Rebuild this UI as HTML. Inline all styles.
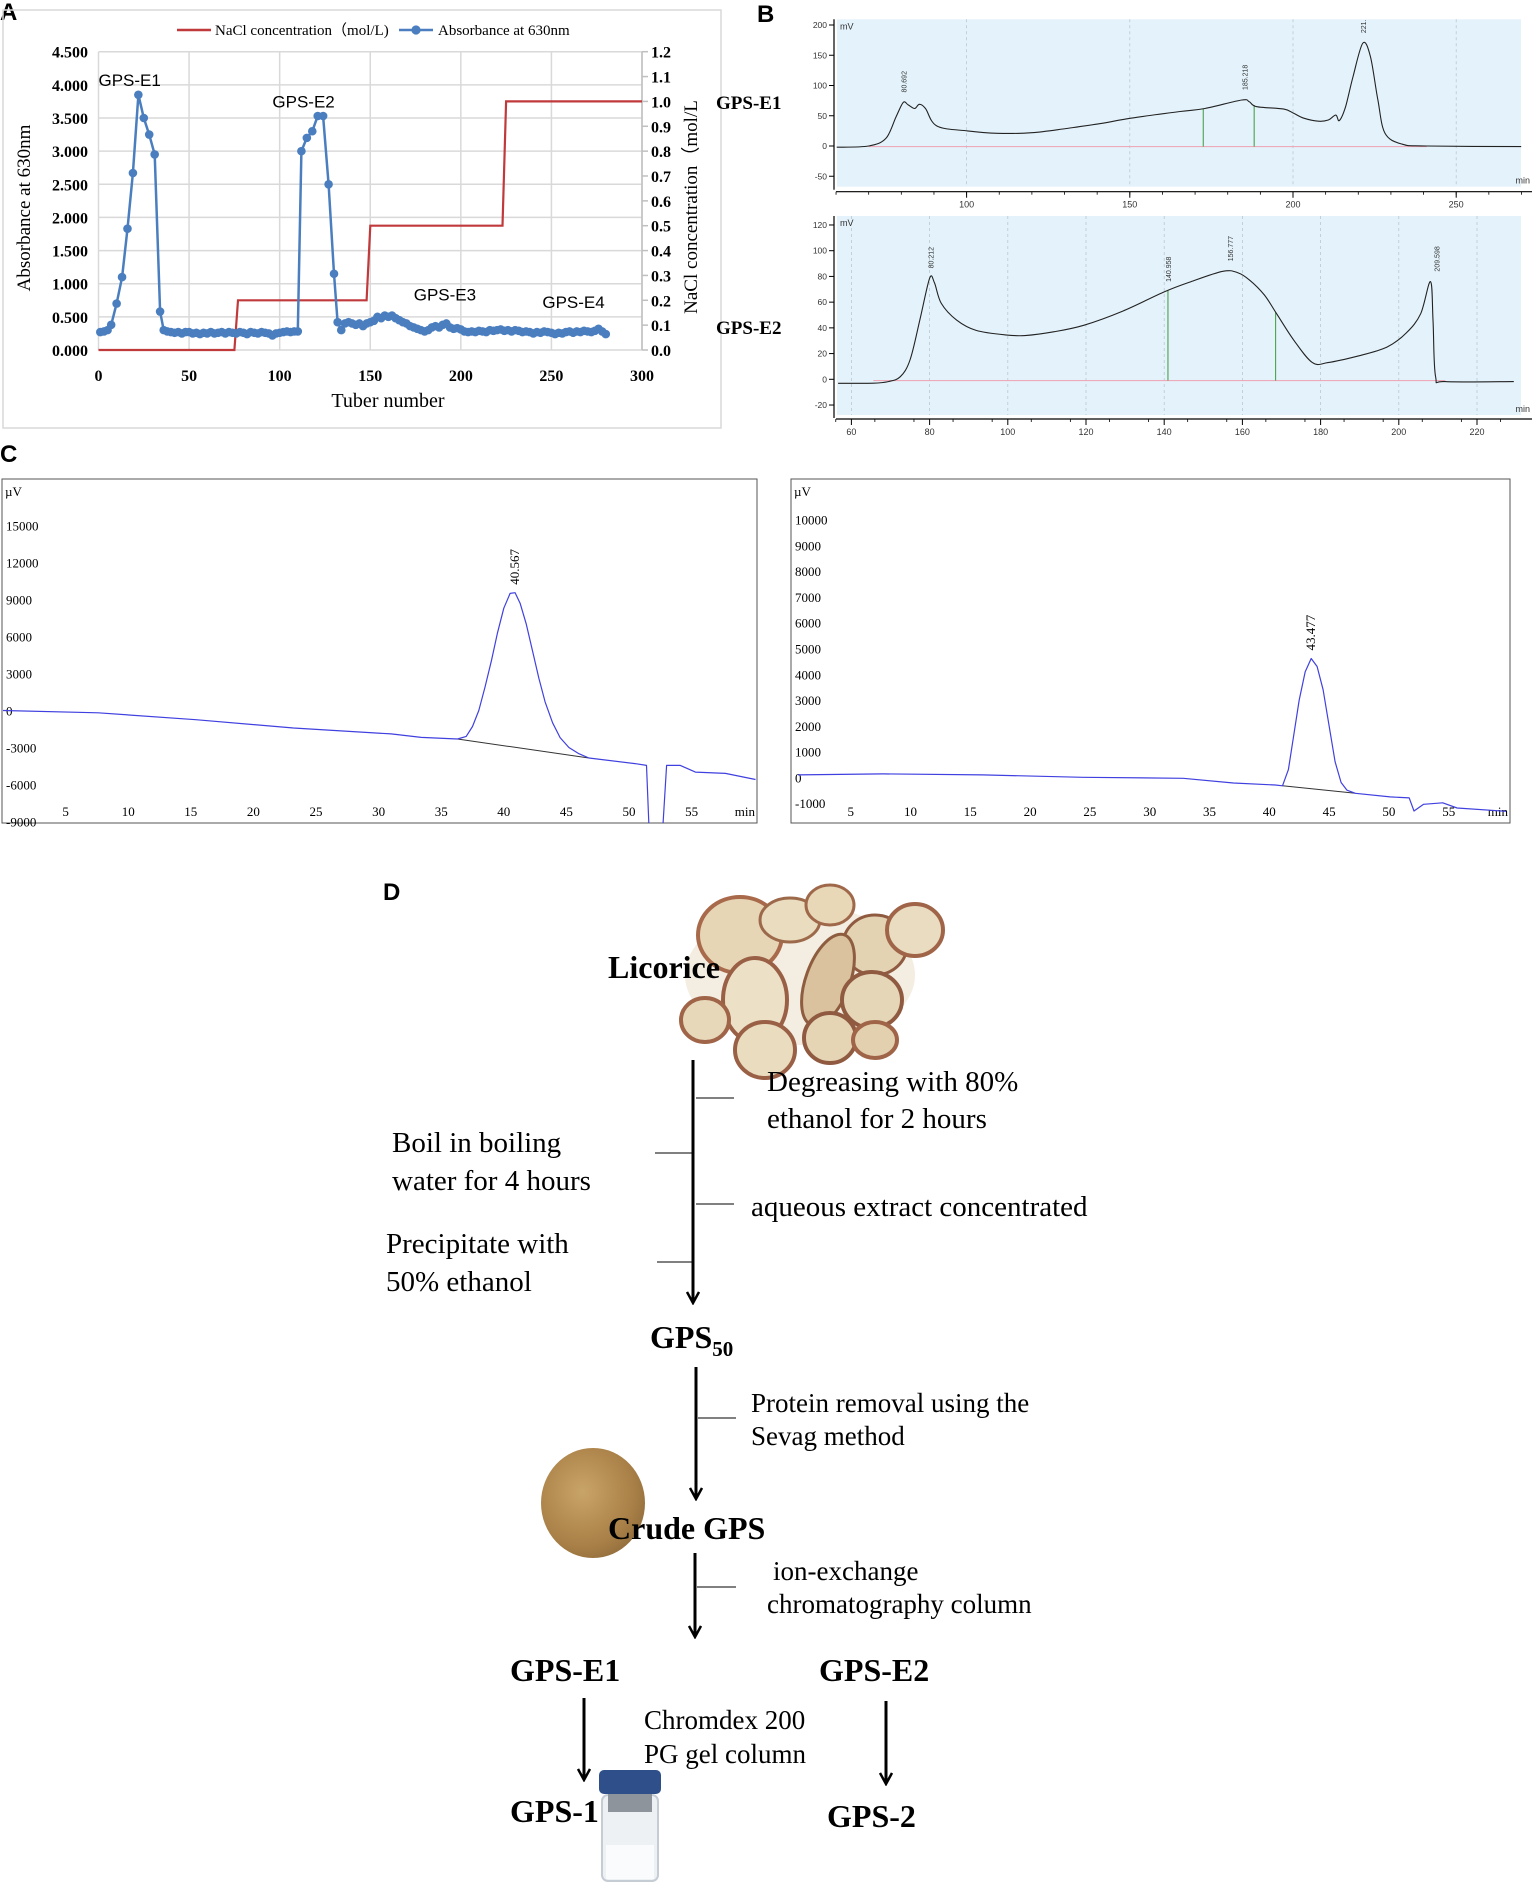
<!DOCTYPE html>
<html><head><meta charset="utf-8">
<style>
html,body{margin:0;padding:0;background:#fff;}
svg{display:block;}
text{font-family:"Liberation Serif",serif;}
.sans{font-family:"Liberation Sans",sans-serif;}
</style></head>
<body>
<svg id="fig" width="1535" height="1888" viewBox="0 0 1535 1888" xmlns="http://www.w3.org/2000/svg">
  <defs>
    <clipPath id="clipCL"><rect x="2" y="479" width="755" height="344"/></clipPath>
    <clipPath id="clipCR"><rect x="791" y="479" width="719" height="344"/></clipPath>
    <radialGradient id="powder" cx="0.4" cy="0.4" r="0.7"><stop offset="0" stop-color="#c9a468"/><stop offset="0.7" stop-color="#a98047"/><stop offset="1" stop-color="#8e6a3a"/></radialGradient>
    <marker id="arr" markerWidth="14" markerHeight="14" refX="12" refY="7" orient="auto" markerUnits="userSpaceOnUse"><path d="M1,1 L12,7 L1,13" fill="none" stroke="#000" stroke-width="2.5"/></marker>
  </defs>

  <text x="0" y="20" class="sans" font-size="24" font-weight="bold">A</text>
  <text x="757" y="22" class="sans" font-size="24" font-weight="bold">B</text>
  <text x="0" y="462" class="sans" font-size="24" font-weight="bold">C</text>
  <text x="383" y="900" class="sans" font-size="24" font-weight="bold">D</text>

  <rect x="3" y="10" width="718" height="418" fill="none" stroke="#d9d9d9" stroke-width="1.5"/>
  <g id="panelA"></g>
  <text x="716" y="109" font-size="19" font-weight="bold">GPS-E1</text>
  <text x="716" y="334" font-size="19" font-weight="bold">GPS-E2</text>

  <g id="panelB"></g>
  <g id="panelC"></g>

  <g id="panelD">
    <g>
      <ellipse cx="800" cy="975" rx="115" ry="70" fill="#f4ede2"/>
      <ellipse cx="740" cy="935" rx="42" ry="38" fill="#e6d6b6" stroke="#a86a4a" stroke-width="4"/>
      <ellipse cx="790" cy="920" rx="30" ry="22" fill="#eadcbf" stroke="#9c6a4a" stroke-width="3"/>
      <ellipse cx="830" cy="905" rx="24" ry="20" fill="#e8d8b8" stroke="#a0684a" stroke-width="3"/>
      <ellipse cx="875" cy="945" rx="32" ry="30" fill="#e3d3b3" stroke="#8f5a40" stroke-width="3"/>
      <ellipse cx="915" cy="930" rx="28" ry="26" fill="#e9dcc0" stroke="#a06548" stroke-width="4"/>
      <ellipse cx="755" cy="1000" rx="32" ry="42" fill="#ece0c6" stroke="#9a6046" stroke-width="4"/>
      <ellipse cx="828" cy="980" rx="22" ry="48" fill="#d9c29d" stroke="#8e5d40" stroke-width="3" transform="rotate(20 828 980)"/>
      <ellipse cx="872" cy="1000" rx="30" ry="28" fill="#e5d6b8" stroke="#8f5a40" stroke-width="4"/>
      <ellipse cx="705" cy="1020" rx="24" ry="22" fill="#e7d8ba" stroke="#a06548" stroke-width="4"/>
      <ellipse cx="765" cy="1050" rx="30" ry="28" fill="#eadcbe" stroke="#9a6046" stroke-width="4"/>
      <ellipse cx="830" cy="1038" rx="26" ry="25" fill="#e6d5b5" stroke="#8f5a40" stroke-width="4"/>
      <ellipse cx="875" cy="1040" rx="22" ry="18" fill="#e3d0ae" stroke="#a06548" stroke-width="4"/>
    </g>
    <text x="608" y="978" font-size="32" font-weight="bold">Licorice</text>

    <line x1="693" y1="1060" x2="693" y2="1303" stroke="#000" stroke-width="3" marker-end="url(#arr)"/>
    <line x1="696" y1="1098" x2="734" y2="1098" stroke="#000" stroke-width="1"/>
    <line x1="655" y1="1153" x2="693" y2="1153" stroke="#000" stroke-width="1"/>
    <line x1="696" y1="1204" x2="734" y2="1204" stroke="#000" stroke-width="1"/>
    <line x1="657" y1="1262" x2="693" y2="1262" stroke="#000" stroke-width="1"/>
    <text x="767" y="1091" font-size="29">Degreasing with 80%</text>
    <text x="767" y="1128" font-size="29">ethanol for 2 hours</text>
    <text x="392" y="1152" font-size="29">Boil in boiling</text>
    <text x="392" y="1190" font-size="29">water for 4 hours</text>
    <text x="751" y="1216" font-size="29">aqueous extract concentrated</text>
    <text x="386" y="1253" font-size="29">Precipitate with</text>
    <text x="386" y="1291" font-size="29">50% ethanol</text>
    <text x="650" y="1348" font-size="32" font-weight="bold">GPS<tspan font-size="21" dy="8">50</tspan></text>

    <line x1="696" y1="1367" x2="696" y2="1499" stroke="#000" stroke-width="3" marker-end="url(#arr)"/>
    <line x1="698" y1="1418" x2="736" y2="1418" stroke="#000" stroke-width="1"/>
    <text x="751" y="1412" font-size="27">Protein removal using the</text>
    <text x="751" y="1445" font-size="27">Sevag method</text>

    <ellipse cx="593" cy="1503" rx="52" ry="55" fill="url(#powder)"/>
    <text x="608" y="1539" font-size="32" font-weight="bold">Crude GPS</text>

    <line x1="695" y1="1553" x2="695" y2="1637" stroke="#000" stroke-width="3" marker-end="url(#arr)"/>
    <line x1="697" y1="1587" x2="736" y2="1587" stroke="#000" stroke-width="1"/>
    <text x="773" y="1580" font-size="27">ion-exchange</text>
    <text x="767" y="1613" font-size="27">chromatography column</text>

    <text x="510" y="1681" font-size="32" font-weight="bold">GPS-E1</text>
    <text x="819" y="1681" font-size="32" font-weight="bold">GPS-E2</text>
    <line x1="584" y1="1698" x2="584" y2="1780" stroke="#000" stroke-width="3" marker-end="url(#arr)"/>
    <line x1="886" y1="1701" x2="886" y2="1784" stroke="#000" stroke-width="3" marker-end="url(#arr)"/>
    <text x="644" y="1729" font-size="27">Chromdex 200</text>
    <text x="644" y="1763" font-size="27">PG gel column</text>

    <g>
      <rect x="602" y="1795" width="56" height="86" rx="6" fill="#eef1f4" stroke="#c5ccd4" stroke-width="2"/>
      <rect x="606" y="1845" width="48" height="34" fill="#fafbfc"/>
      <rect x="608" y="1790" width="44" height="22" fill="#8d949c"/>
      <rect x="599" y="1770" width="62" height="24" rx="5" fill="#2f4f8a"/>
    </g>
    <text x="510" y="1822" font-size="32" font-weight="bold">GPS-1</text>
    <text x="827" y="1827" font-size="32" font-weight="bold">GPS-2</text>
  </g>
</svg>

<script>
// ---------- Panel A data ----------
const tubeNumbers = [1,3,5,7,10,13,16,19,22,25,28,31,34,36,38,40,42,44,46,48,50,52,54,56,58,60,62,64,66,68,70,72,74,76,78,80,82,84,86,88,90,92,94,96,98,100,102,104,106,108,110,112,115,118,121,124,127,130,132,134,136,138,140,142,144,146,148,150,152,154,156,158,160,162,164,166,168,170,172,174,176,178,180,182,184,186,188,190,192,194,196,198,200,202,204,206,208,210,212,214,216,218,220,222,224,226,228,230,232,234,236,238,240,242,244,246,248,250,252,254,256,258,260,262,264,266,268,270,272,274,276,278,280];
const absorbance = [0.27,0.28,0.30,0.38,0.70,1.10,1.83,2.67,3.85,3.50,3.25,2.95,0.58,0.30,0.28,0.27,0.26,0.27,0.25,0.27,0.27,0.25,0.26,0.24,0.26,0.25,0.27,0.25,0.26,0.27,0.25,0.27,0.26,0.25,0.27,0.26,0.24,0.27,0.26,0.25,0.27,0.26,0.25,0.22,0.25,0.26,0.27,0.28,0.27,0.28,0.28,3.00,3.20,3.30,3.53,3.53,2.50,1.15,0.42,0.30,0.40,0.42,0.40,0.38,0.40,0.36,0.40,0.42,0.44,0.50,0.48,0.52,0.50,0.52,0.48,0.45,0.42,0.40,0.36,0.34,0.32,0.30,0.28,0.30,0.34,0.36,0.34,0.38,0.40,0.34,0.32,0.33,0.31,0.28,0.27,0.28,0.27,0.29,0.28,0.27,0.30,0.29,0.30,0.31,0.29,0.30,0.28,0.30,0.29,0.27,0.28,0.27,0.25,0.27,0.26,0.28,0.27,0.26,0.24,0.26,0.25,0.27,0.28,0.26,0.28,0.27,0.29,0.28,0.27,0.29,0.32,0.28,0.24];
const naclTubes = [0,75,77,148,150,223,225,300];
const naclConc = [0,0,0.2,0.2,0.5,0.5,1.0,1.0];
const absTicks = ["0.000","0.500","1.000","1.500","2.000","2.500","3.000","3.500","4.000","4.500"];
const naclTicks = ["0.0","0.1","0.2","0.3","0.4","0.5","0.6","0.7","0.8","0.9","1.0","1.1","1.2"];
const tubeTicks = [0,50,100,150,200,250,300];
const peakLabels = ["GPS-E1","GPS-E2","GPS-E3","GPS-E4"];
const peakLabelTubes = [0,96,174,245];
const peakLabelAbs = [3.98,3.66,0.75,0.63];

// ---------- Panel B data ----------
const e1Times = [60.2,70,75.3,78.4,80.6,82.1,84.1,85.5,87.4,90.9,100.3,109.4,120,130.6,141,150.3,165.4,173,184.3,186.6,188.9,197.2,200.2,203.3,207.8,210.8,213.1,214.2,216.1,218.4,221.4,223.7,226,228.2,233.5,241,269.9];
const e1Signal = [-2,0,12.7,48.5,72,68,62,69,62,33,25,21,22,29,37,46,57,62,76,73,65,61,54,46,41,43,51,42,65,115,170,148,76,21,3,0,-1];
const e1Markers = [172.5,188.1];
const e1PeakTimes = [80.6,185.2,221.4];
const e1PeakText = ["80.692","185.218","221."];
const e1XTicks = [100,150,200,250];
const e1YTicks = [-50,0,50,100,150,200];

const e2Times = [56.6,65.6,69.4,72.5,75,77.5,80,81.25,83,86.9,91.9,99.4,104.4,111.9,119.4,129.4,140,146.9,155,158.75,161.9,165.6,168.75,173.1,177.9,181.9,189.4,196.9,201.9,205.6,208.1,208.75,209.4,211.9,229.4];
const e2Signal = [-3.1,-3,-1.8,2,15,46,78.5,75,59,46,38,34.5,34,37,42,53,68,76,84,83,77,65.6,51,30.6,13,13,18,25,36,51,76,46,2,-1.8,-1.8];
const e2Markers = [140.96,168.5];
const e2PeakTimes = [80.2,141,156.8,209.6];
const e2PeakText = ["80.212","140.958","156.777","209.598"];
const e2XTicks = [60,80,100,120,140,160,180,200,220];
const e2YTicks = [-20,0,20,40,60,80,100,120];

// ---------- Panel C data ----------
const c1Times = [0,7.6,15.4,23.2,31,33.4,36.3,37,37.5,38,38.5,39,39.5,40,40.5,40.9,41.3,41.8,42.3,42.8,43.3,43.9,44.5,45.2,46,46.8,50.6,51.4,51.6,52.7,53,54.1,55.3,57.7,60.1];
const c1Signal = [0,-190,-750,-1420,-1900,-2180,-2310,-2100,-1300,0,1900,4000,6300,8300,9500,9550,8700,7000,4800,2600,700,-1000,-2200,-3000,-3500,-3850,-4320,-4450,-9500,-9500,-4450,-4450,-5000,-5100,-5600];
const c1BaseTimes = [36.3,46.8];
const c1BaseSignal = [-2310,-3850];
const c1YTicks = [15000,12000,9000,6000,3000,0,-3000,-6000,-9000];
const c2Times = [0.6,7.7,16,24.4,32.8,37,40.5,41.1,41.6,42,42.5,43,43.5,44,44.5,45,45.5,46,46.5,47.2,50.1,51.7,52.1,52.9,54.5,55.7,59.8];
const c2Signal = [93,132,93,0,-39,-220,-300,-330,300,1500,3000,4100,4610,4300,3400,2000,600,-200,-500,-620,-760,-800,-1310,-1050,-990,-1190,-1320];
const c2BaseTimes = [41.1,47.2];
const c2BaseSignal = [-330,-620];
const c2YTicks = [10000,9000,8000,7000,6000,5000,4000,3000,2000,1000,0,-1000];
const cXTicks = [5,10,15,20,25,30,35,40,45,50,55];
const cPeakText = ["40.567","43.477"];

const NS = "http://www.w3.org/2000/svg";
function mk(tag, attrs, parent){
  const e = document.createElementNS(NS, tag);
  for (const k in attrs) e.setAttribute(k, attrs[k]);
  parent.appendChild(e);
  return e;
}
function polyD(xs, ys, fx, fy){
  return xs.map((t,i)=>(i?"L":"M")+fx(t).toFixed(1)+","+fy(ys[i]).toFixed(1)).join(" ");
}
function smoothD(xs, ys, fx, fy){
  const P = xs.map((t,i)=>[fx(t),fy(ys[i])]);
  let d = "M"+P[0][0].toFixed(1)+","+P[0][1].toFixed(1);
  for(let i=0;i<P.length-1;i++){
    const p0=P[i-1]||P[i], p1=P[i], p2=P[i+1], p3=P[i+2]||P[i+1];
    const c1=[p1[0]+(p2[0]-p0[0])/6, p1[1]+(p2[1]-p0[1])/6];
    const c2=[p2[0]-(p3[0]-p1[0])/6, p2[1]-(p3[1]-p1[1])/6];
    d += " C"+c1[0].toFixed(1)+","+c1[1].toFixed(1)+" "+c2[0].toFixed(1)+","+c2[1].toFixed(1)+" "+p2[0].toFixed(1)+","+p2[1].toFixed(1);
  }
  return d;
}

// ===== Panel A =====
(function(){
  const g = document.getElementById("panelA");
  const Y0 = 350, Y1 = 51.7;
  const ax = t => 98.5 + t*(543.5/300);
  const ayL = v => Y0 - v*((Y0-Y1)/4.5);
  const ayR = v => Y0 - v*((Y0-Y1)/1.2);
  absTicks.forEach(lab=>{
    const v = parseFloat(lab);
    const gl = mk("line",{x1:98.5,x2:642,y1:ayL(v),y2:ayL(v),stroke:"#d9d9d9","stroke-width":1.5},g);
    
    
    const t = mk("text",{x:88,y:ayL(v)+6,"text-anchor":"end","font-size":16,"font-weight":"bold"},g);
    t.textContent = lab;
    
    
  });
  tubeTicks.forEach(v=>{
    const gl = mk("line",{x1:ax(v),x2:ax(v),y1:Y1,y2:Y0,stroke:"#d9d9d9","stroke-width":1.5},g);
    
    
    const t = mk("text",{x:ax(v),y:381,"text-anchor":"middle","font-size":16,"font-weight":"bold"},g);
    t.textContent = v;
    
    
  });
  const axR = mk("line",{x1:642,x2:642,y1:Y1,y2:Y0,stroke:"#bfbfbf","stroke-width":1.5},g);
  
  
  naclTicks.forEach(lab=>{
    const v = parseFloat(lab);
    const tk = mk("line",{x1:642,x2:648,y1:ayR(v),y2:ayR(v),stroke:"#bfbfbf","stroke-width":1.5},g);
    
    
    const t = mk("text",{x:651,y:ayR(v)+6,"font-size":16,"font-weight":"bold"},g);
    t.textContent = lab;
    
    
  });
  const nacl = mk("path",{d:polyD(naclTubes,naclConc,ax,ayR),fill:"none",stroke:"#c0393b","stroke-width":2.2},g);
  
  
  const absL = mk("path",{d:polyD(tubeNumbers,absorbance,ax,ayL),fill:"none",stroke:"#4a7ebf","stroke-width":2.5},g);
  
  
  tubeNumbers.forEach((t,i)=>{
    const c = mk("circle",{cx:ax(t),cy:ayL(absorbance[i]),r:4.3,fill:"#4a7ebf"},g);
    
    
  });
  peakLabels.forEach((lab,i)=>{
    const t = mk("text",{x:ax(peakLabelTubes[i]),y:ayL(peakLabelAbs[i]),"font-size":17,class:"sans"},g);
    t.textContent = lab;
    
    
  });
  const xt = mk("text",{x:388,y:407,"text-anchor":"middle","font-size":20},g);
  xt.textContent = "Tuber number";
  
  
  const yl = mk("text",{x:0,y:0,"text-anchor":"middle","font-size":19,transform:"translate(30,208) rotate(-90)"},g);
  yl.textContent = "Absorbance at 630nm";
  
  
  const yr = mk("text",{x:0,y:0,"text-anchor":"middle","font-size":19,transform:"translate(697,207) rotate(-90)"},g);
  yr.textContent = "NaCl concentration（mol/L";
  
  
  const lg = mk("g",{},g);
  
  
  const l1 = mk("line",{x1:177,x2:211,y1:30,y2:30,stroke:"#c0393b","stroke-width":2.5},lg);
  
  
  const lt1 = mk("text",{x:215,y:35,"font-size":15},lg);
  lt1.textContent = "NaCl concentration（mol/L)";
  
  
  const l2 = mk("line",{x1:399,x2:433,y1:30,y2:30,stroke:"#4a7ebf","stroke-width":2.5},lg);
  
  
  const lc = mk("circle",{cx:416,cy:30,r:4.6,fill:"#4a7ebf"},lg);
  
  
  const lt2 = mk("text",{x:438,y:35,"font-size":15},lg);
  lt2.textContent = "Absorbance at 630nm";
  
  
})();

// ===== Panel B =====
function drawB(cfg){
  const g = document.getElementById("panelB");
  const {fx,fy,top,bot,xAxisY,times,sig,markers,pkT,pkTxt,xt,yt,tMin,tMax,name,minTick} = cfg;
  const bg = mk("rect",{x:837,y:top,width:684,height:bot-top,fill:"#e4f3fb"},g);
  
  
  xt.forEach(v=>{
    const gl = mk("line",{x1:fx(v),x2:fx(v),y1:top,y2:bot,stroke:"#b9c7cf","stroke-width":0.8,"stroke-dasharray":"3,3"},g);
    
    
    const tk = mk("line",{x1:fx(v),x2:fx(v),y1:xAxisY,y2:xAxisY+6,stroke:"#000","stroke-width":1},g);
    
    
    const t = mk("text",{x:fx(v),y:xAxisY+16,"text-anchor":"middle","font-size":9,class:"sans",fill:"#333"},g);
    t.textContent = v;
    
    
  });
  for(let v=tMin; v<=tMax; v+=minTick){
    const tk = mk("line",{x1:fx(v),x2:fx(v),y1:xAxisY,y2:xAxisY+3,stroke:"#000","stroke-width":0.8},g);
    
    
  }
  const xa = mk("line",{x1:836,x2:1532,y1:xAxisY,y2:xAxisY,stroke:"#000","stroke-width":1.2},g);
  
  
  const ya = mk("line",{x1:834,x2:834,y1:top,y2:bot+3,stroke:"#000","stroke-width":1.2},g);
  
  
  yt.forEach(v=>{
    const tk = mk("line",{x1:829,x2:834,y1:fy(v),y2:fy(v),stroke:"#000","stroke-width":1},g);
    
    
    const t = mk("text",{x:827,y:fy(v)+3,"text-anchor":"end","font-size":8.5,class:"sans",fill:"#333"},g);
    t.textContent = v;
    
    
  });
  const mv = mk("text",{x:840,y:top+10,"font-size":9,class:"sans",fill:"#333"},g);
  mv.textContent = "mV";
  
  
  const mn = mk("text",{x:1530,y:bot-3,"text-anchor":"end","font-size":9,class:"sans",fill:"#333"},g);
  mn.textContent = "min";
  
  
  const bl = mk("line",{x1:fx(times[1]),x2:fx(times[times.length-2]),y1:fy(-1),y2:fy(-1),stroke:"#f0a0b0","stroke-width":1},g);
  
  
  markers.forEach(m=>{
    let v=0;
    for(let i=1;i<times.length;i++){ if(times[i]>=m){const f=(m-times[i-1])/(times[i]-times[i-1]); v=sig[i-1]+f*(sig[i]-sig[i-1]); break;} }
    const l = mk("line",{x1:fx(m),x2:fx(m),y1:fy(-1),y2:fy(v),stroke:"#3a9a3a","stroke-width":1},g);
    
    
  });
  const p = mk("path",{d:smoothD(times,sig,fx,fy),fill:"none",stroke:"#222","stroke-width":1.1},g);
  
  
  pkT.forEach((t,i)=>{
    let v=-1e9;
    times.forEach((tt,k)=>{ if(Math.abs(tt-t)<=2 && sig[k]>v) v=sig[k]; });
    const tx = mk("text",{x:0,y:0,"font-size":7,class:"sans",fill:"#333",transform:`translate(${fx(t)+3},${fy(v)-10}) rotate(-90)`},g);
    tx.textContent = pkTxt[i];
    
    
  });
}
drawB({fx:t=>966.6+(t-100)*3.264, fy:v=>146-v*0.605, top:19.3, bot:186.7, xAxisY:191.7,
  times:e1Times, sig:e1Signal, markers:e1Markers, pkT:e1PeakTimes, pkTxt:e1PeakText, xt:e1XTicks, yt:e1YTicks,
  tMin:60, tMax:270, name:"b-e1", minTick:10});
drawB({fx:t=>851.4+(t-60)*3.91, fy:v=>379.3-v*1.286, top:216, bot:415, xAxisY:419,
  times:e2Times, sig:e2Signal, markers:e2Markers, pkT:e2PeakTimes, pkTxt:e2PeakText, xt:e2XTicks, yt:e2YTicks,
  tMin:56, tMax:230, name:"b-e2", minTick:10});

// ===== Panel C =====
function drawC(cfg){
  const g = document.getElementById("panelC");
  const {x0,x1,fx,fy,times,sig,bt,bs,yt,clip,name,pk} = cfg;
  const box = mk("rect",{x:x0,y:479,width:x1-x0,height:344,fill:"#fff",stroke:"#555","stroke-width":1},g);
  
  
  const uv = mk("text",{x:x0+3,y:496,"font-size":13},g);
  uv.textContent = "µV";
  
  
  yt.forEach(v=>{
    const t = mk("text",{x:x0+4,y:fy(v)+5,"font-size":13},g);
    t.textContent = v;
    
    
  });
  cXTicks.forEach(v=>{
    const t = mk("text",{x:fx(v),y:816,"text-anchor":"middle","font-size":13},g);
    t.textContent = v;
    
    
  });
  const mn = mk("text",{x:x1-2,y:816,"text-anchor":"end","font-size":13},g);
  mn.textContent = "min";
  
  
  const cg = mk("g",{"clip-path":`url(#${clip})`},g);
  const b = mk("path",{d:polyD(bt,bs,fx,fy),fill:"none",stroke:"#333","stroke-width":1},cg);
  
  
  const p = mk("path",{d:polyD(times,sig,fx,fy),fill:"none",stroke:"#4040e0","stroke-width":1.2,"stroke-linejoin":"round"},cg);
  
  
  let mi = 0; sig.forEach((v,i)=>{ if(v>sig[mi]) mi=i; });
  const tx = mk("text",{x:0,y:0,"font-size":13,transform:`translate(${fx(times[mi])+4},${fy(sig[mi])-8}) rotate(-90)`},g);
  tx.textContent = pk;
  
  
}
drawC({x0:2,x1:757,fx:t=>3+t*12.52,fy:v=>710.5-v*0.01233,times:c1Times,sig:c1Signal,bt:c1BaseTimes,bs:c1BaseSignal,yt:c1YTicks,clip:"clipCL",name:"c-gps1",pk:cPeakText[0]});
drawC({x0:791,x1:1510,fx:t=>790.9+t*11.96,fy:v=>777.3-v*0.02576,times:c2Times,sig:c2Signal,bt:c2BaseTimes,bs:c2BaseSignal,yt:c2YTicks,clip:"clipCR",name:"c-gps2",pk:cPeakText[1]});
</script>
</body></html>
